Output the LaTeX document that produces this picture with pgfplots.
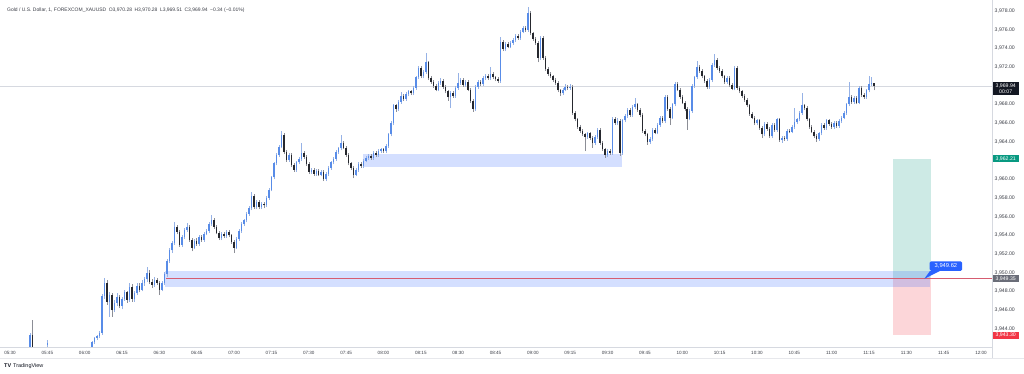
\documentclass[border=0pt]{standalone}
\usepackage{fontspec}
\setmainfont{Liberation Sans}
\usepackage{pgfplots}
\usepackage{pgfplotstable}
\pgfplotsset{compat=1.18}
\definecolor{upc}{RGB}{88,140,232}
\definecolor{dnc}{RGB}{38,40,46}
\definecolor{upw}{RGB}{150,178,230}
\definecolor{dnw}{RGB}{140,142,150}
\definecolor{tvblue}{RGB}{41,98,255}
\definecolor{tvgreen}{RGB}{8,153,129}
\definecolor{tvred}{RGB}{242,54,69}
\definecolor{redline}{RGB}{214,92,112}
\definecolor{tvgray}{RGB}{106,109,120}
\definecolor{tvblack}{RGB}{19,23,34}
\definecolor{labc}{RGB}{60,63,72}
\definecolor{linec}{RGB}{214,217,224}

\pgfplotstableread{
m o h l c
8 3941.8 3943.6 3941.5 3943.4
9 3943.4 3945.0 3941.6 3942.0
15 3942.3 3942.8 3942.0 3942.5
33 3942.0 3942.7 3941.8 3942.6
34 3942.6 3943.1 3942.4 3943.0
35 3943.0 3943.4 3942.8 3943.2
36 3943.2 3943.8 3943.0 3943.6
37 3943.6 3947.7 3943.4 3947.5
38 3947.5 3949.4 3947.2 3948.9
39 3948.9 3949.2 3946.6 3946.9
40 3946.9 3947.9 3945.3 3947.6
41 3947.6 3947.8 3945.3 3946.0
42 3946.0 3947.1 3945.8 3946.8
43 3946.8 3947.8 3946.5 3947.4
44 3947.4 3947.6 3946.2 3946.5
45 3946.5 3947.4 3946.1 3947.2
46 3947.2 3948.2 3947.0 3947.9
47 3947.9 3948.1 3946.8 3947.1
48 3947.1 3948.9 3946.9 3948.5
49 3948.5 3948.8 3946.9 3947.2
50 3947.2 3948.1 3946.9 3947.8
51 3947.8 3948.9 3947.6 3948.6
52 3948.6 3948.9 3947.9 3948.2
53 3948.2 3949.2 3948.0 3948.9
54 3948.9 3949.6 3948.6 3949.3
55 3949.3 3950.6 3949.0 3950.0
56 3950.0 3950.3 3948.8 3949.0
57 3949.0 3949.3 3948.4 3948.7
58 3948.7 3949.5 3948.5 3949.2
59 3949.2 3949.4 3948.7 3948.9
60 3948.9 3949.1 3947.6 3948.2
61 3948.2 3949.1 3948.0 3948.9
62 3948.9 3950.1 3948.7 3949.9
63 3949.9 3951.5 3949.6 3951.3
64 3951.3 3952.6 3951.1 3952.4
65 3952.4 3953.4 3952.1 3953.2
66 3953.2 3955.4 3953.0 3954.9
67 3954.9 3955.1 3954.1 3954.4
68 3954.4 3954.6 3952.8 3953.0
69 3953.0 3954.0 3952.8 3953.8
70 3953.8 3954.8 3953.6 3954.6
71 3954.6 3955.3 3954.4 3954.9
72 3954.9 3955.1 3953.3 3953.5
73 3953.5 3953.7 3952.3 3952.7
74 3952.7 3953.6 3952.5 3953.4
75 3953.4 3953.7 3952.9 3953.1
76 3953.1 3954.0 3952.9 3953.8
77 3953.8 3954.0 3953.3 3953.5
78 3953.5 3954.4 3953.3 3954.2
79 3954.2 3954.7 3954.0 3954.5
80 3954.5 3955.4 3954.3 3955.2
81 3955.2 3956.2 3955.0 3955.7
82 3955.7 3955.9 3954.7 3954.9
83 3954.9 3955.1 3954.1 3954.3
84 3954.3 3954.5 3953.5 3953.7
85 3953.7 3954.4 3953.5 3954.2
86 3954.2 3954.4 3953.7 3953.9
87 3953.9 3954.6 3953.7 3954.4
88 3954.4 3954.6 3953.8 3954.0
89 3954.0 3954.2 3953.1 3953.3
90 3953.3 3953.5 3952.1 3952.7
91 3952.7 3953.8 3952.5 3953.6
92 3953.6 3954.7 3953.4 3954.5
93 3954.5 3955.4 3954.3 3955.2
94 3955.2 3955.8 3955.0 3955.6
95 3955.6 3956.5 3955.4 3956.3
96 3956.3 3957.1 3956.1 3956.9
97 3956.9 3958.6 3956.7 3958.2
98 3958.2 3958.4 3956.8 3957.0
99 3957.0 3957.8 3956.8 3957.6
100 3957.6 3957.8 3956.8 3957.0
101 3957.0 3957.6 3956.8 3957.4
102 3957.4 3957.6 3956.9 3957.2
103 3957.2 3958.2 3957.0 3958.0
104 3958.0 3959.1 3957.8 3958.9
105 3958.9 3960.4 3958.7 3960.2
106 3960.2 3961.9 3960.0 3961.7
107 3961.7 3962.8 3961.5 3962.6
108 3962.6 3963.7 3962.4 3963.5
109 3963.5 3965.2 3963.3 3964.7
110 3964.7 3964.9 3962.7 3962.9
111 3962.9 3963.1 3961.9 3962.1
112 3962.1 3962.8 3961.9 3962.6
113 3962.6 3962.8 3961.3 3961.5
114 3961.5 3961.7 3960.8 3961.0
115 3961.0 3962.0 3960.8 3961.8
116 3961.8 3962.4 3961.6 3962.2
117 3962.2 3963.9 3962.0 3962.8
118 3962.8 3963.0 3962.2 3962.4
119 3962.4 3962.6 3961.4 3961.6
120 3961.6 3961.8 3960.6 3960.8
121 3960.8 3961.2 3960.6 3961.0
122 3961.0 3961.2 3960.4 3960.6
123 3960.6 3961.1 3960.4 3960.9
124 3960.9 3961.1 3960.3 3960.5
125 3960.5 3961.0 3960.3 3960.8
126 3960.8 3961.0 3959.8 3960.0
127 3960.0 3960.8 3959.8 3960.6
128 3960.6 3961.4 3960.4 3961.2
129 3961.2 3962.0 3961.0 3961.8
130 3961.8 3962.4 3961.6 3962.2
131 3962.2 3963.1 3962.0 3962.9
132 3962.9 3963.5 3962.7 3963.3
133 3963.3 3964.7 3963.1 3963.9
134 3963.9 3964.1 3963.2 3963.4
135 3963.4 3963.6 3962.4 3962.6
136 3962.6 3962.8 3961.5 3961.7
137 3961.7 3961.9 3961.0 3961.2
138 3961.2 3961.4 3960.1 3960.5
139 3960.5 3961.2 3960.3 3961.0
140 3961.0 3961.8 3960.8 3961.6
141 3961.6 3961.8 3961.2 3961.4
142 3961.4 3962.2 3961.2 3962.0
143 3962.0 3962.5 3961.8 3962.3
144 3962.3 3962.7 3962.1 3962.5
145 3962.5 3962.7 3962.1 3962.3
146 3962.3 3963.0 3962.1 3962.8
147 3962.8 3963.0 3962.4 3962.6
148 3962.6 3963.2 3962.4 3963.0
149 3963.0 3963.4 3962.8 3963.2
150 3963.2 3963.4 3962.8 3963.0
151 3963.0 3963.8 3962.8 3963.6
152 3963.6 3965.0 3963.4 3964.8
153 3964.8 3966.2 3964.6 3966.0
154 3966.0 3968.1 3965.8 3967.9
155 3967.9 3968.1 3967.2 3967.5
156 3967.5 3968.5 3967.3 3968.3
157 3968.3 3969.3 3968.1 3968.9
158 3968.9 3969.1 3968.4 3968.6
159 3968.6 3969.3 3968.4 3969.1
160 3969.1 3969.6 3968.9 3969.4
161 3969.4 3969.6 3969.0 3969.2
162 3969.2 3970.0 3969.0 3969.8
163 3969.8 3971.1 3969.6 3970.9
164 3970.9 3972.1 3970.7 3971.9
165 3971.9 3972.1 3970.8 3971.0
166 3971.0 3971.7 3970.8 3971.5
167 3971.5 3973.5 3971.3 3972.5
168 3972.5 3972.7 3970.6 3970.8
169 3970.8 3971.0 3970.2 3970.4
170 3970.4 3970.6 3969.8 3970.0
171 3970.0 3970.2 3969.4 3969.6
172 3969.6 3970.5 3969.4 3970.3
173 3970.3 3970.8 3970.1 3970.5
174 3970.5 3970.7 3969.7 3969.9
175 3969.9 3970.1 3969.2 3969.4
176 3969.4 3969.6 3968.4 3968.8
177 3968.8 3969.4 3967.6 3969.2
178 3969.2 3969.4 3968.7 3968.9
179 3968.9 3970.0 3968.7 3969.8
180 3969.8 3971.4 3969.6 3970.3
181 3970.3 3970.8 3970.1 3970.6
182 3970.6 3970.8 3969.9 3970.1
183 3970.1 3970.6 3969.9 3970.4
184 3970.4 3970.6 3969.4 3969.6
185 3969.6 3969.8 3968.2 3968.4
186 3968.4 3968.6 3967.2 3967.5
187 3967.5 3970.1 3967.3 3969.9
188 3969.9 3970.6 3969.7 3970.4
189 3970.4 3970.6 3970.0 3970.2
190 3970.2 3971.0 3970.0 3970.8
191 3970.8 3971.3 3970.6 3971.1
192 3971.1 3971.3 3970.6 3970.8
193 3970.8 3972.0 3970.6 3971.3
194 3971.3 3971.5 3970.7 3970.9
195 3970.9 3971.1 3970.5 3970.7
196 3970.7 3970.9 3970.3 3970.5
197 3970.5 3975.2 3970.3 3974.7
198 3974.7 3974.9 3973.7 3973.9
199 3973.9 3974.7 3973.7 3974.5
200 3974.5 3974.7 3974.0 3974.2
201 3974.2 3974.8 3974.0 3974.6
202 3974.6 3975.1 3974.4 3974.9
203 3974.9 3975.5 3974.7 3975.3
204 3975.3 3975.5 3974.9 3975.1
205 3975.1 3976.0 3974.9 3975.8
206 3975.8 3976.4 3975.6 3976.2
207 3976.2 3976.4 3975.8 3976.0
208 3976.0 3978.4 3975.8 3977.8
209 3977.8 3978.0 3975.4 3975.6
210 3975.6 3975.8 3974.8 3975.0
211 3975.0 3975.2 3974.4 3974.6
212 3974.6 3974.8 3972.5 3973.0
213 3973.0 3975.3 3972.8 3975.1
214 3975.1 3975.3 3972.8 3973.0
215 3973.0 3973.2 3971.6 3971.8
216 3971.8 3972.0 3971.1 3971.3
217 3971.3 3971.5 3970.8 3971.0
218 3971.0 3971.2 3970.4 3970.6
219 3970.6 3970.8 3970.1 3970.3
220 3970.3 3970.5 3969.3 3969.5
221 3969.5 3969.7 3968.9 3969.2
222 3969.2 3969.8 3969.0 3969.6
223 3969.6 3970.2 3969.4 3969.9
224 3969.9 3970.1 3969.6 3969.8
225 3969.8 3970.2 3969.6 3969.9
226 3969.9 3970.1 3966.9 3967.1
227 3967.1 3967.3 3966.2 3966.4
228 3966.4 3966.6 3965.4 3965.6
229 3965.6 3965.8 3965.0 3965.2
230 3965.2 3965.4 3964.6 3964.8
231 3964.8 3965.0 3963.0 3964.5
232 3964.5 3965.1 3964.3 3964.9
233 3964.9 3965.1 3964.2 3964.4
234 3964.4 3964.6 3963.4 3963.9
235 3963.9 3964.7 3963.7 3964.5
236 3964.5 3965.5 3964.3 3965.3
237 3965.3 3965.5 3963.7 3963.9
238 3963.9 3964.1 3963.0 3963.2
239 3963.2 3963.4 3962.3 3962.6
240 3962.6 3963.2 3962.4 3963.0
241 3963.0 3963.2 3962.6 3962.8
242 3962.8 3966.7 3962.6 3966.5
243 3966.5 3966.7 3965.8 3966.0
244 3966.0 3966.6 3965.8 3966.2
245 3966.2 3966.4 3962.5 3962.8
246 3962.8 3966.5 3962.6 3966.3
247 3966.3 3967.0 3966.1 3966.8
248 3966.8 3967.6 3966.6 3967.4
249 3967.4 3967.6 3966.7 3966.9
250 3966.9 3967.9 3966.7 3967.7
251 3967.7 3968.7 3967.5 3968.0
252 3968.0 3968.2 3967.2 3967.4
253 3967.4 3967.6 3966.7 3966.9
254 3966.9 3967.1 3965.0 3965.2
255 3965.2 3965.4 3964.6 3964.8
256 3964.8 3965.0 3963.7 3964.0
257 3964.0 3964.5 3963.8 3964.3
258 3964.3 3965.5 3964.1 3965.3
259 3965.3 3965.5 3964.8 3965.0
260 3965.0 3966.0 3964.8 3965.8
261 3965.8 3966.8 3965.6 3966.6
262 3966.6 3966.8 3966.0 3966.2
263 3966.2 3969.0 3966.0 3968.8
264 3968.8 3969.0 3967.3 3967.5
265 3967.5 3967.7 3965.8 3966.6
266 3966.6 3968.2 3966.4 3968.0
267 3968.0 3970.4 3967.8 3970.2
268 3970.2 3970.4 3969.4 3969.6
269 3969.6 3969.8 3968.6 3968.8
270 3968.8 3969.0 3968.0 3968.2
271 3968.2 3968.4 3967.3 3967.5
272 3967.5 3967.7 3965.3 3966.5
273 3966.5 3967.5 3966.3 3967.3
274 3967.3 3970.2 3967.1 3970.0
275 3970.0 3971.1 3969.8 3970.9
276 3970.9 3972.7 3970.7 3972.0
277 3972.0 3972.2 3971.4 3971.6
278 3971.6 3971.8 3970.8 3971.0
279 3971.0 3971.2 3970.3 3970.5
280 3970.5 3970.7 3969.7 3969.9
281 3969.9 3970.8 3969.7 3970.6
282 3970.6 3972.4 3970.4 3972.2
283 3972.2 3973.4 3972.0 3972.8
284 3972.8 3973.0 3971.7 3971.9
285 3971.9 3972.1 3971.4 3971.6
286 3971.6 3971.8 3970.8 3971.0
287 3971.0 3971.2 3970.2 3970.4
288 3970.4 3971.0 3970.2 3970.8
289 3970.8 3971.0 3969.9 3970.1
290 3970.1 3970.3 3969.5 3969.7
291 3969.7 3972.1 3969.5 3971.9
292 3971.9 3972.1 3969.6 3969.8
293 3969.8 3970.0 3969.2 3969.4
294 3969.4 3969.6 3968.7 3968.9
295 3968.9 3969.1 3968.3 3968.5
296 3968.5 3968.7 3967.7 3967.9
297 3967.9 3968.1 3966.8 3967.0
298 3967.0 3967.2 3966.4 3966.6
299 3966.6 3966.8 3965.8 3966.0
300 3966.0 3966.5 3965.8 3966.3
301 3966.3 3966.5 3965.3 3965.5
302 3965.5 3965.7 3964.4 3964.8
303 3964.8 3966.1 3964.6 3965.9
304 3965.9 3966.1 3965.2 3965.4
305 3965.4 3965.6 3964.4 3964.6
306 3964.6 3966.0 3964.4 3965.8
307 3965.8 3966.0 3965.1 3965.3
308 3965.3 3966.6 3965.1 3966.4
309 3966.4 3966.6 3964.0 3964.2
310 3964.2 3964.6 3963.9 3964.4
311 3964.4 3964.6 3964.1 3964.3
312 3964.3 3965.4 3964.1 3965.2
313 3965.2 3965.4 3964.9 3965.1
314 3965.1 3965.8 3964.9 3965.6
315 3965.6 3967.6 3965.4 3966.1
316 3966.1 3966.6 3965.9 3966.4
317 3966.4 3967.3 3966.2 3967.1
318 3967.1 3969.2 3966.9 3967.9
319 3967.9 3968.1 3967.4 3967.6
320 3967.6 3967.8 3966.2 3966.4
321 3966.4 3966.6 3965.4 3965.6
322 3965.6 3965.8 3964.9 3965.1
323 3965.1 3965.3 3964.4 3964.6
324 3964.6 3964.8 3964.0 3964.3
325 3964.3 3965.1 3964.1 3964.9
326 3964.9 3966.0 3964.7 3965.8
327 3965.8 3966.0 3965.3 3965.5
328 3965.5 3966.5 3965.3 3966.3
329 3966.3 3966.5 3965.7 3965.9
330 3965.9 3966.1 3965.4 3965.6
331 3965.6 3966.2 3965.4 3966.0
332 3966.0 3966.2 3965.5 3965.7
333 3965.7 3966.4 3965.5 3966.2
334 3966.2 3966.8 3966.0 3966.6
335 3966.6 3967.3 3966.4 3967.1
336 3967.1 3968.2 3966.9 3968.0
337 3968.0 3970.4 3967.8 3968.8
338 3968.8 3969.0 3968.1 3968.3
339 3968.3 3968.9 3968.1 3968.7
340 3968.7 3968.9 3968.0 3968.2
341 3968.2 3970.0 3968.0 3969.8
342 3969.8 3970.0 3968.8 3969.0
343 3969.0 3969.2 3968.6 3968.8
344 3968.8 3969.7 3968.6 3969.5
345 3969.5 3971.0 3969.3 3970.2
346 3970.2 3970.9 3970.0 3970.28
347 3970.28 3970.28 3969.51 3969.94
}\candles

\begin{document}
\begin{tikzpicture}
\useasboundingbox (0,0) rectangle (1024bp,374bp);
\fill[white] (0,0) rectangle (1024bp,374bp);
\begin{axis}[
  at={(0,27bp)}, anchor=south west, scale only axis,
  width=992bp, height=347bp,
  xmin=-4.016, xmax=394.4, ymin=3942.064, ymax=3979.176,
  clip mode=individual,
  axis line style={draw=none},
  major tick length=0pt,
  scaled y ticks=false,
  xtick={0,15,...,390},
  xticklabels={05:30,05:45,06:00,06:15,06:30,06:45,07:00,07:15,07:30,07:45,08:00,08:15,08:30,08:45,09:00,09:15,09:30,09:45,10:00,10:15,10:30,10:45,11:00,11:15,11:30,11:45,12:00},
  xticklabel style={anchor=center, inner sep=0pt, yshift=-5.5bp, font=\fontsize{4.6}{5}\selectfont, text=labc},
  ytick={3944,3946,3948,3950,3952,3954,3956,3958,3960,3964,3966,3968,3972,3974,3976,3978},
  yticklabel pos=right,
  yticklabel style={anchor=west, inner sep=0pt, xshift=2.5bp, font=\fontsize{5.2}{6}\selectfont, text=labc,
    /pgf/number format/.cd, fixed, fixed zerofill, precision=2, 1000 sep={,}, assume math mode=true},
]
% zones
\addplot[draw=none, fill=tvblue, fill opacity=0.2, forget plot] coordinates {(141.8,3961.32) (245.8,3961.32) (245.8,3962.70) (141.8,3962.70)} -- cycle;
\addplot[draw=none, fill=tvgreen, fill opacity=0.2, forget plot] coordinates {(354.6,3949.35) (369.9,3949.35) (369.9,3962.21) (354.6,3962.21)} -- cycle;
\addplot[draw=none, fill=tvred, fill opacity=0.2, forget plot] coordinates {(354.6,3943.30) (369.9,3943.30) (369.9,3949.35) (354.6,3949.35)} -- cycle;
\addplot[draw=none, fill=tvblue, fill opacity=0.2, forget plot] coordinates {(62.2,3948.48) (369.5,3948.48) (369.5,3950.19) (62.2,3950.19)} -- cycle;
% current price line
\addplot[linec, line width=0.5bp, forget plot] coordinates {(-4.016,3969.94) (394.4,3969.94)};
% red entry line
\addplot[redline, line width=0.9bp, forget plot] coordinates {(62.8,3949.35) (394.4,3949.35)};
% wicks
\addplot[draw=none, mark=none, forget plot, error bars/.cd, y dir=plus, y explicit, error mark=none,
  error bar style={draw=upw, line width=0.5bp}]
  table[x=m, y expr={\thisrow{c}<\thisrow{o} ? nan : \thisrow{l}}, y error plus expr={\thisrow{h}-\thisrow{l}}] {\candles};
\addplot[draw=none, mark=none, forget plot, error bars/.cd, y dir=plus, y explicit, error mark=none,
  error bar style={draw=dnw, line width=0.5bp}]
  table[x=m, y expr={\thisrow{c}<\thisrow{o} ? \thisrow{l} : nan}, y error plus expr={\thisrow{h}-\thisrow{l}}] {\candles};
% bodies
\addplot[draw=none, mark=none, forget plot, error bars/.cd, y dir=plus, y explicit, error mark=none,
  error bar style={draw=upc, line width=1.5bp}]
  table[x=m, y expr={\thisrow{c}<\thisrow{o} ? nan : \thisrow{o}}, y error plus expr={\thisrow{c}-\thisrow{o}}] {\candles};
\addplot[draw=none, mark=none, forget plot, error bars/.cd, y dir=plus, y explicit, error mark=none,
  error bar style={draw=dnc, line width=1.5bp}]
  table[x=m, y expr={\thisrow{c}<\thisrow{o} ? \thisrow{c} : nan}, y error plus expr={\thisrow{o}-\thisrow{c}}] {\candles};
% callout
\fill[tvblue] (axis cs:369.5,3950.2) -- (axis cs:367.2,3949.35) -- (axis cs:373.5,3950.2) -- cycle;
\node[fill=tvblue, text=white, rounded corners=1.5bp, inner xsep=5bp, inner ysep=2.4bp,
  font=\fontsize{5.8}{6}\selectfont] at (axis cs:375.9,3950.72) {3,949.62};
% price scale badges
\node[fill=tvgreen, text=white, anchor=west, inner xsep=1.5bp, inner ysep=1.3bp, minimum width=27bp,
  font=\fontsize{5.2}{6}\selectfont] at (axis cs:394.4,3962.21) {3,962.21};
\node[fill=tvgray, text=white, anchor=west, inner xsep=1.5bp, inner ysep=1.3bp, minimum width=27bp,
  font=\fontsize{5.2}{6}\selectfont] at (axis cs:394.4,3949.35) {3,949.35};
\node[fill=tvred, text=white, anchor=west, inner xsep=1.5bp, inner ysep=1.3bp, minimum width=27bp,
  font=\fontsize{5.2}{6}\selectfont] at (axis cs:394.4,3943.30) {3,943.30};
\node[fill=tvblack, text=white, anchor=west, inner xsep=1.5bp, inner ysep=1.6bp, minimum width=27bp,
  align=center, font=\fontsize{5.2}{6.2}\selectfont] at (axis cs:394.4,3969.70) {3,969.94\\00:07};
\end{axis}
% scale borders
\draw[linec, line width=0.6bp] (0,27bp) -- (992bp,27bp);
\draw[linec, line width=0.6bp] (992bp,16bp) -- (992bp,374bp);
\draw[linec!60, line width=0.5bp] (0,16bp) -- (1024bp,16bp);
% title
\node[anchor=west, inner sep=0pt, text=labc, font=\fontsize{5}{6}\selectfont] at (7bp,364bp)
  {Gold / U.S. Dollar, 1, FOREXCOM\_XAUUSD\enspace O3,970.28\enspace H3,970.28\enspace L3,969.51\enspace C3,969.94\enspace −0.34 (−0.01\%)};
% logo
\node[anchor=west, inner sep=0pt, text=tvblack, font=\fontsize{5.5}{6}\selectfont] at (4bp,8bp)
  {\textbf{TV}\hspace{2bp}TradingView};
\end{tikzpicture}
\end{document}
